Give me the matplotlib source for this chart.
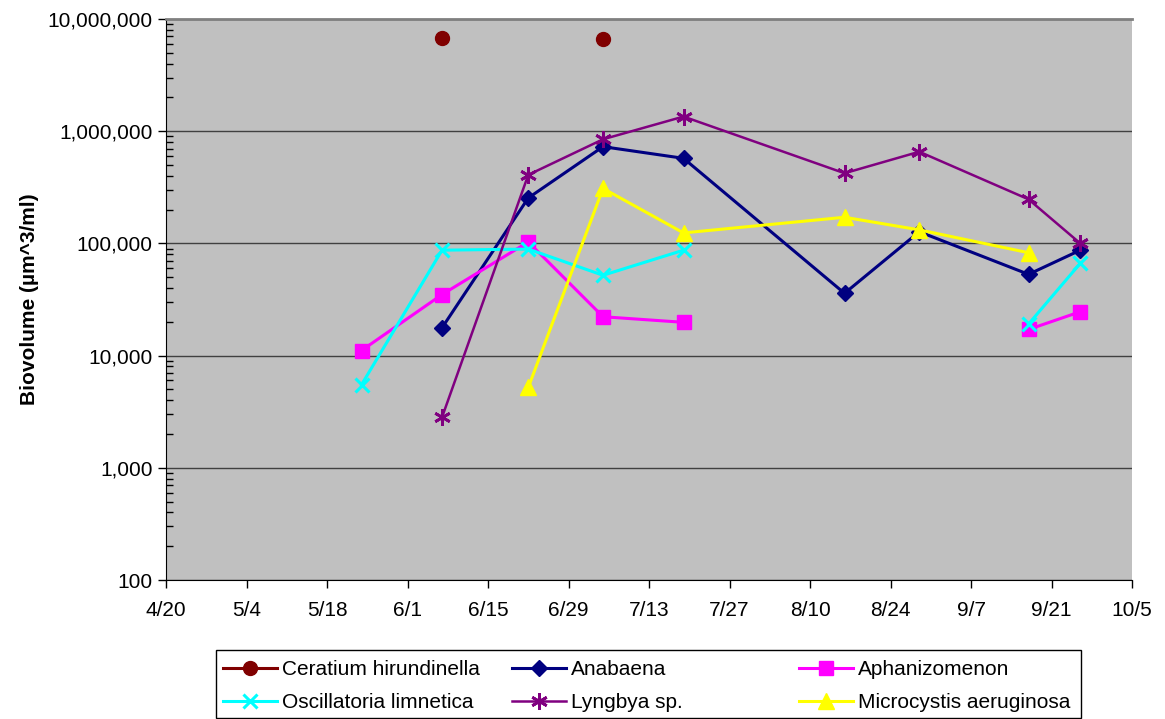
import datetime as dt
import numpy as np
import matplotlib
matplotlib.use("Agg")
import matplotlib.pyplot as plt
import matplotlib.ticker as mticker
from matplotlib.patches import Rectangle

plt.rcParams['font.family'] = ['Liberation Sans', 'DejaVu Sans']

nan = np.nan
# sampling dates (month, day)
sample_days = [(5, 24), (6, 7), (6, 22), (7, 5), (7, 19), (8, 16), (8, 29), (9, 17), (9, 26)]

ceratium = [nan, 6.73e6, nan, 6.6e6, nan, nan, nan, nan, nan]
anabaena = [nan, 17700, 254000, 728000, 573000, 35900, 127000, 53000, 87000]
aphanizomenon = [11100, 35000, 103000, 22200, 19800, nan, nan, 17100, 24600]
oscillatoria = [5500, 87000, 89000, 52000, 87000, nan, nan, 19100, 66500]
lyngbya = [nan, 2820, 408000, 847000, 1350000, 422000, 656000, 247000, 100000]
microcystis = [nan, nan, 5200, 309000, 124000, 171000, 132000, 82600, nan]

names = ["Ceratium hirundinella", "Anabaena", "Aphanizomenon",
         "Oscillatoria limnetica", "Lyngbya sp.", "Microcystis aeruginosa"]

dates = [dt.date(2007, m, d) for m, d in sample_days]
start = dt.date(2007, 4, 20)
tick_dates = [start + dt.timedelta(days=14 * i) for i in range(13)]
tick_labels = [f"{d.month}/{d.day}" for d in tick_dates]

W, H = 1165, 719
fig = plt.figure(figsize=(W / 100, H / 100), dpi=100)
ax = fig.add_axes([0.1425, 0.1933, 0.8292, 0.7803])
ax.set_facecolor('#C0C0C0')

styles = [
    dict(color='#800000', marker='o', ms=10, lw=2.2),
    dict(color='#000080', marker='D', ms=8, lw=2.2),
    dict(color='#FF00FF', marker='s', ms=10, lw=2.2),
    dict(color='#00FFFF', marker='x', ms=10, lw=2.2, mew=2.2),
    dict(color='#800080', marker=(6, 2, 0), ms=12, lw=1.8, mew=2),
    dict(color='#FFFF00', marker='^', ms=11, lw=2.2),
]
series = [ceratium, anabaena, aphanizomenon, oscillatoria, lyngbya, microcystis]

lines = []
for vals, name, st in zip(series, names, styles):
    ln, = ax.plot(dates, vals, label=name, **st)
    lines.append(ln)

ax.set_yscale('log')
ax.set_ylim(100, 1e7)
ax.set_xlim(tick_dates[0], tick_dates[-1])
ax.set_xticks(tick_dates)
ax.set_xticklabels(tick_labels)

ax.yaxis.set_major_locator(mticker.LogLocator(base=10, numticks=10))
ax.yaxis.set_minor_locator(mticker.LogLocator(base=10, subs=np.arange(2, 10), numticks=20))
ax.yaxis.set_major_formatter(mticker.FuncFormatter(lambda v, p: f"{v:,.0f}"))
ax.yaxis.set_minor_formatter(mticker.NullFormatter())

ax.grid(True, which='major', axis='y', color='#404040', lw=1)
ax.set_axisbelow(True)
ax.tick_params(axis='both', which='major', labelsize=15, direction='out', length=6, width=1)
ax.tick_params(axis='y', which='minor', direction='in', length=5, width=1)
ax.tick_params(axis='x', pad=9)

ax.spines['right'].set_visible(False)
ax.spines['top'].set_color('#808080')
ax.spines['top'].set_linewidth(2)

ax.set_ylabel("Biovolume (µm^3/ml)", fontsize=15, fontweight='bold', labelpad=6)

# legend: outer frame plus three two-row columns
fig.add_artist(Rectangle((216 / W, 1 - 718 / H), 865 / W, 68 / H,
                         transform=fig.transFigure, fill=False,
                         edgecolor='black', lw=1))
col_x = [223, 512, 799]
for c, x in enumerate(col_x):
    idx = [c, c + 3]
    leg = fig.legend([lines[i] for i in idx], [names[i] for i in idx],
                     loc='upper left', bbox_to_anchor=(x / W, 1 - 660 / H),
                     fontsize=15, frameon=False, handlelength=2.6,
                     handletextpad=0.25, labelspacing=0.68,
                     borderpad=0, borderaxespad=0)

fig.savefig('out.png', dpi=100)
